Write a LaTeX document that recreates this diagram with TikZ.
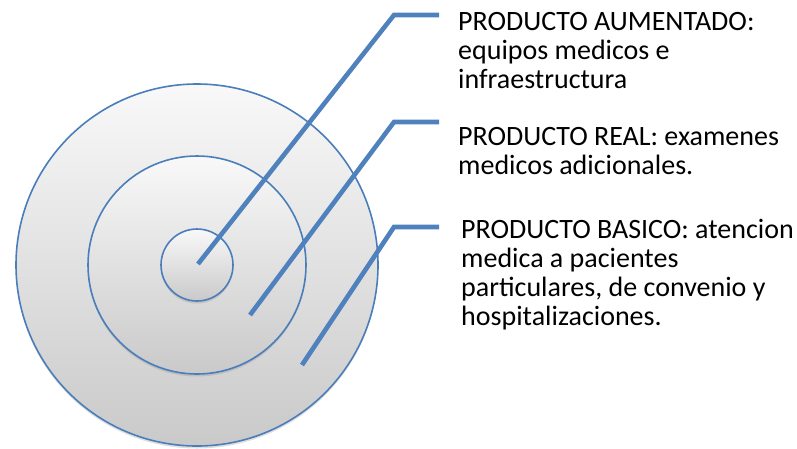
\documentclass[tikz,border=0pt]{standalone}
\usepackage{fontspec}
\setmainfont{Carlito}
\usetikzlibrary{shadows}
\definecolor{ringblue}{HTML}{4A7EBB}
\definecolor{leadblue}{HTML}{4F81BD}
\tikzset{
  ring/.style={circle, draw=ringblue, line width=1.6pt, top color=gray!5, bottom color=gray!42, inner sep=0pt,
    drop shadow={shadow xshift=0pt, shadow yshift=-2.5pt, opacity=0.25}},
  leader/.style={draw=leadblue, line width=4.6pt},
  note/.style={anchor=north west, align=left, inner sep=0pt, font=\fontsize{28}{29}\selectfont},
}

\begin{document}
\begin{tikzpicture}[x=1pt, y=-1pt]
  \useasboundingbox (0,0) rectangle (797,448);
  % rings
  \node[ring, minimum size=362pt] (outer) at (197,265) {};
  \node[ring, minimum size=218pt] (middle) at (197,265) {};
  \node[ring, minimum size=72pt] (inner) at (197,265) {};
  % leader points
  \coordinate (s1) at (198,264);
  \coordinate (k1) at (394,15);
  \coordinate (e1) at (439,15);
  \coordinate (s2) at (250,315);
  \coordinate (k2) at (394,122);
  \coordinate (e2) at (439,122);
  \coordinate (s3) at (302,365);
  \coordinate (k3) at (394,227);
  \coordinate (e3) at (439,227);
  \draw[leader] (s1) -- (k1) -- (e1);
  \draw[leader] (s2) -- (k2) -- (e2);
  \draw[leader] (s3) -- (k3) -- (e3);
  % labels
  \node[note] (aumentado) at (458,12.5) {PRODUCTO AUMENTADO:\\equipos medicos e\\infraestructura};
  \node[note] (real) at (458,127) {PRODUCTO REAL: examenes\\medicos adicionales.};
  \node[note] (basico) at (461,219) {PRODUCTO BASICO: atencion\\medica a pacientes\\particulares, de convenio y\\hospitalizaciones.};
\end{tikzpicture}
\end{document}
